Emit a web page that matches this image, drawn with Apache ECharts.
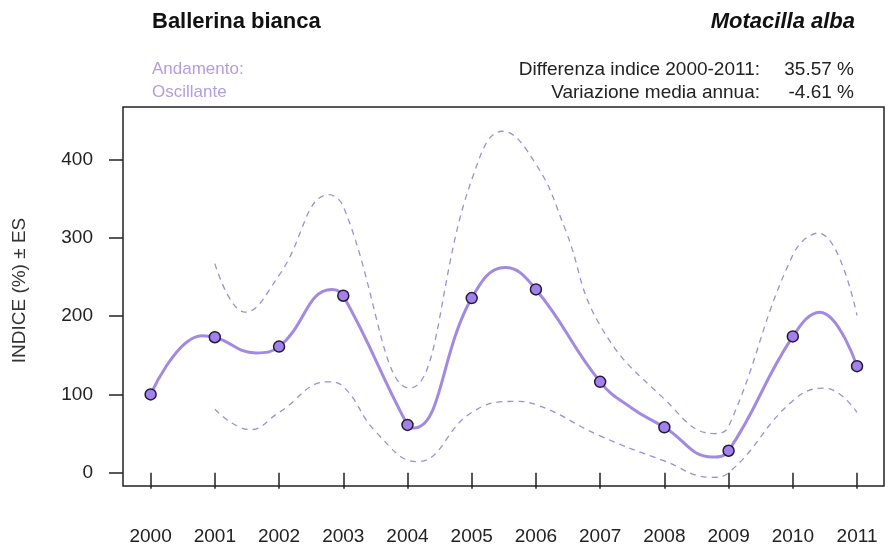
<!DOCTYPE html>
<html>
<head>
<meta charset="utf-8">
<script src="https://cdn.jsdelivr.net/npm/echarts@6/dist/echarts.min.js"></script>
<style>
  html, body { margin: 0; padding: 0; background: #fff; }
  #main { width: 890px; height: 549px; }
</style>
</head>
<body>
<div id="main"></div>
<script>
// anni e indice annuale (punti)
var years = [2000, 2001, 2002, 2003, 2004, 2005, 2006, 2007, 2008, 2009, 2010, 2011];
var indexValues = [100, 173, 161, 226, 61, 223, 234, 116, 58, 28, 174, 136];

// curva di andamento (compresi i massimi/minimi tra gli anni)
var trendX = [2000, 2000.8, 2001, 2001.64, 2002, 2002.82, 2003, 2004, 2004.1, 2005, 2005.52, 2006, 2007, 2007.5, 2008, 2008.75, 2009, 2010, 2010.42, 2011];
var trendY = [100, 175, 173, 153, 161, 234, 226, 61, 57, 223, 262, 234, 116, 82, 58, 20, 28, 174, 205, 136];

// limiti +/- ES
var upperX = [2001, 2001.47, 2002, 2002.78, 2003, 2004.03, 2005, 2005.48, 2006, 2006.45, 2007, 2008, 2008.77, 2009, 2010, 2010.4, 2011];
var upperY = [267, 205, 252, 355, 340, 108, 374, 436, 394, 312, 188, 94, 50, 59, 278, 306, 201];
var lowerX = [2001, 2001.55, 2002, 2002.76, 2003, 2003.52, 2004.15, 2005, 2005.67, 2006, 2007, 2008, 2008.74, 2009, 2010, 2010.5, 2011];
var lowerY = [81, 55, 77, 116, 110, 51, 14, 77, 91, 87, 47, 15, -6, 0, 92, 108, 77];

var yTicks = [0, 100, 200, 300, 400];

function pairs(xs, ys) {
  return xs.map(function (x, i) { return [x, ys[i]]; });
}

var FONT = 'Liberation Sans, Arial, sans-serif';
var purple = '#a289e2';
var band = '#9a90d8';

var chart = echarts.init(document.getElementById('main'));
chart.setOption({
  animation: false,
  backgroundColor: '#fff',
  title: [
    { text: 'Ballerina bianca', left: 152, top: 11, padding: 0,
      textStyle: { fontFamily: FONT, fontSize: 22, fontWeight: 'bold', color: '#111' } },
    { text: 'Motacilla alba', right: 35, top: 11, padding: 0,
      textStyle: { fontFamily: FONT, fontSize: 22, fontWeight: 'bold', fontStyle: 'italic', color: '#111' } },
    { text: 'Andamento:', left: 152, top: 61, padding: 0,
      textStyle: { fontFamily: FONT, fontSize: 17, fontWeight: 'normal', color: '#b39ddf' } },
    { text: 'Oscillante', left: 152, top: 84, padding: 0,
      textStyle: { fontFamily: FONT, fontSize: 17, fontWeight: 'normal', color: '#b39ddf' } },
    { text: 'Differenza indice 2000-2011:', right: 130, top: 60, padding: 0,
      textStyle: { fontFamily: FONT, fontSize: 19, fontWeight: 'normal', color: '#222' } },
    { text: '35.57 %', right: 36, top: 60, padding: 0,
      textStyle: { fontFamily: FONT, fontSize: 19, fontWeight: 'normal', color: '#222' } },
    { text: 'Variazione media annua:', right: 130, top: 83, padding: 0,
      textStyle: { fontFamily: FONT, fontSize: 19, fontWeight: 'normal', color: '#222' } },
    { text: '-4.61 %', right: 36, top: 83, padding: 0,
      textStyle: { fontFamily: FONT, fontSize: 19, fontWeight: 'normal', color: '#222' } }
  ],
  grid: {
    left: 123, right: 6, top: 107, bottom: 63,
    show: true, borderColor: '#222', borderWidth: 1.5, backgroundColor: '#fff'
  },
  xAxis: {
    type: 'value',
    min: 1999.57,
    max: 2011.42,
    axisLine: { show: false },
    splitLine: { show: false },
    axisTick: { show: true, inside: false, length: 16, customValues: years,
      lineStyle: { color: '#222', width: 1.5 } },
    axisLabel: { customValues: years, margin: 41, fontFamily: FONT, fontSize: 19, color: '#222',
      formatter: function (v) { return String(Math.round(v)); } }
  },
  yAxis: {
    type: 'value',
    min: -17,
    max: 467,
    name: 'INDICE (%) \u00b1 ES',
    nameLocation: 'middle',
    nameRotate: 90,
    nameGap: 94,
    nameTextStyle: { fontFamily: FONT, fontSize: 19, color: '#333', padding: [0, 0, 0, 12] },
    axisLine: { show: false },
    splitLine: { show: false },
    axisTick: { show: true, length: 14, customValues: yTicks,
      lineStyle: { color: '#222', width: 1.5 } },
    axisLabel: { customValues: yTicks, margin: 30, fontFamily: FONT, fontSize: 19, color: '#222' }
  },
  series: [
    {
      name: 'ES sup', type: 'line', smooth: 0.45, showSymbol: false,
      data: pairs(upperX, upperY),
      lineStyle: { color: band, width: 1.3, type: [6, 5] }
    },
    {
      name: 'ES inf', type: 'line', smooth: 0.45, showSymbol: false,
      data: pairs(lowerX, lowerY),
      lineStyle: { color: band, width: 1.3, type: [6, 5] }
    },
    {
      name: 'Andamento', type: 'line', smooth: 0.45, showSymbol: false,
      data: pairs(trendX, trendY),
      lineStyle: { color: purple, width: 3 }
    },
    {
      name: 'Indice', type: 'scatter', symbolSize: 11,
      data: pairs(years, indexValues),
      itemStyle: { color: '#a282ea', borderColor: '#231a3a', borderWidth: 1.5, opacity: 1 },
      z: 5
    }
  ]
});
</script>
</body>
</html>
